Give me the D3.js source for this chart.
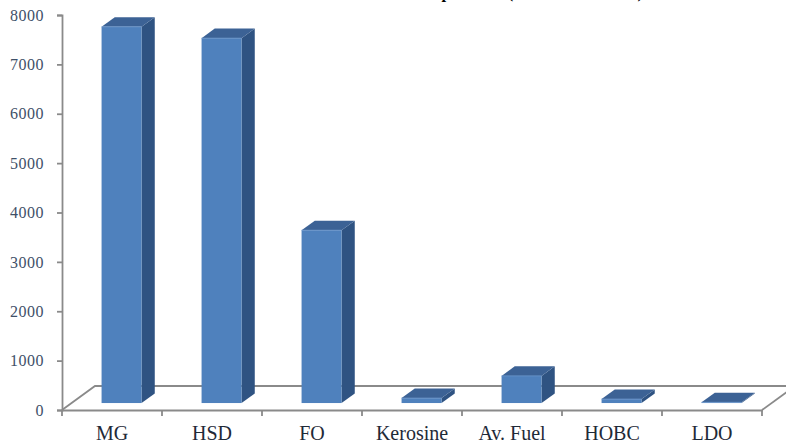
<!DOCTYPE html>
<html>
<head>
<meta charset="utf-8">
<script src="https://cdn.jsdelivr.net/npm/d3@7"></script>
<style>
  html, body { margin: 0; padding: 0; background: #fff; }
  svg { display: block; }
</style>
</head>
<body>
<div id="chart"></div>
<script>
// ---- data ----
const categories = ["MG", "HSD", "FO", "Kerosine", "Av. Fuel", "HOBC", "LDO"];
const values = [7620, 7390, 3500, 100, 550, 80, 15];
const yTicks = [0, 1000, 2000, 3000, 4000, 5000, 6000, 7000, 8000];
const titleText = "Sales of Petroleum products (Thousand Tonnes)";

// ---- layout ----
const W = 786, H = 444;
const floorDepth = { dx: 33, dy: -24 };
const barDepthStart = 0.29, barDepthEnd = 0.69;

const svg = d3.select("#chart").append("svg")
  .attr("width", W).attr("height", H);
svg.append("rect").attr("width", W).attr("height", H).attr("fill", "#fff");

const x = d3.scaleBand().domain(categories).range([62, 762])
  .paddingInner(0.6).paddingOuter(0.3);
const xCat = d3.scaleBand().domain(categories).range([62, 762]).padding(0);
const y = d3.scaleLinear().domain([0, 8000]).range([410, 15]);

const axisColor = "#8a8a8a";

// floor outline
const x0 = 62, x1 = 762, yb = y(0);
const floor = svg.append("g").attr("stroke", axisColor).attr("stroke-width", 1.8).attr("fill", "none");
floor.append("path").attr("d",
  `M${x0},${yb} L${x0 + floorDepth.dx},${yb + floorDepth.dy} L${x1 + floorDepth.dx},${yb + floorDepth.dy}`);
floor.append("path").attr("d",
  `M${x1},${yb} L${x1 + floorDepth.dx},${yb + floorDepth.dy}`);

// y axis
const yAxis = d3.axisLeft(y).tickValues(yTicks).tickSize(5).tickPadding(13).tickFormat(d3.format("d"));
const gy = svg.append("g").attr("transform", `translate(${x0},0)`).call(yAxis);
gy.select(".domain").attr("stroke", axisColor).attr("stroke-width", 1.8);
gy.selectAll(".tick line").attr("stroke", axisColor).attr("stroke-width", 1.8);
gy.selectAll(".tick text")
  .attr("fill", "#3e5068")
  .style("font-family", "'Liberation Serif', 'Times New Roman', serif")
  .style("font-size", "16px")
  .style("letter-spacing", "0.5px");

// x axis (front floor edge)
const xAxis = d3.axisBottom(xCat).tickSize(0).tickPadding(16);
const gx = svg.append("g").attr("transform", `translate(0,${yb})`).call(xAxis);
gx.select(".domain").attr("stroke", axisColor).attr("stroke-width", 1.8);
gx.selectAll(".tick text")
  .attr("fill", "#1f2a38")
  .style("font-family", "'Liberation Serif', 'Times New Roman', serif")
  .style("font-size", "20px");
// category boundary ticks
const bounds = categories.map(c => xCat(c)).concat([x1]);
gx.selectAll(".bound").data(bounds).enter().append("line")
  .attr("x1", d => d).attr("x2", d => d).attr("y1", 0).attr("y2", 6)
  .attr("stroke", axisColor).attr("stroke-width", 1.8);

// bars
const ox0 = floorDepth.dx * barDepthStart, oy0 = floorDepth.dy * barDepthStart;
const ox1 = floorDepth.dx * barDepthEnd, oy1 = floorDepth.dy * barDepthEnd;
const bars = svg.append("g");
categories.forEach((c, i) => {
  const v = values[i];
  const L = x(c) + ox0, R = L + x.bandwidth();
  const B = y(0) + oy0, T = y(v) + oy0;
  const ddx = ox1 - ox0, ddy = oy1 - oy0;
  const g = bars.append("g");
  // side
  g.append("path").attr("d",
    `M${R},${B} L${R + ddx},${B + ddy} L${R + ddx},${T + ddy} L${R},${T} Z`)
    .attr("fill", "#2f5382");
  // top
  g.append("path").attr("d",
    `M${L},${T} L${L + ddx},${T + ddy} L${R + ddx},${T + ddy} L${R},${T} Z`)
    .attr("fill", "#3c6295");
  // front
  g.append("rect").attr("x", L).attr("y", T).attr("width", R - L).attr("height", Math.max(0, B - T))
    .attr("fill", "#4f81bd");
  // subtle edge
  g.append("line").attr("x1", L).attr("x2", R).attr("y1", T).attr("y2", T)
    .attr("stroke", "#6d97cb").attr("stroke-width", 0.8);
});

// title (cut off at top)
svg.append("text")
  .attr("x", 643).attr("y", -2)
  .attr("text-anchor", "end")
  .style("font-family", "'Liberation Serif', 'Times New Roman', serif")
  .style("font-weight", "bold")
  .style("font-size", "16.5px")
  .attr("fill", "#000")
  .text(titleText);
</script>
</body>
</html>
